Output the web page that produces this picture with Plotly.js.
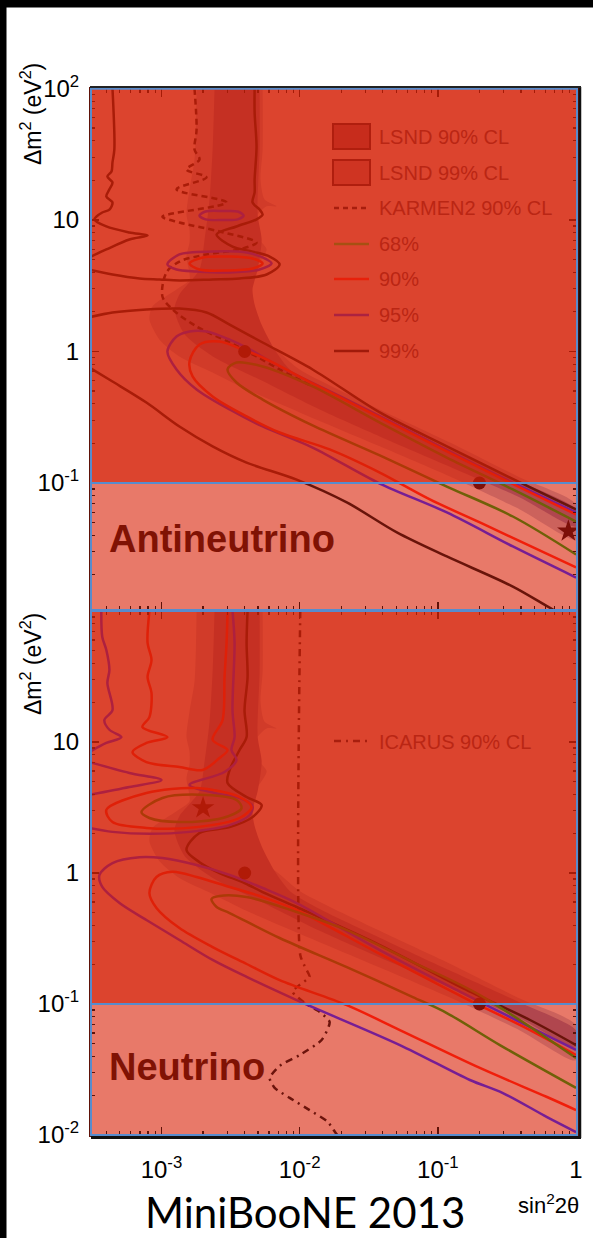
<!DOCTYPE html>
<html><head><meta charset="utf-8">
<script src="https://cdn.plot.ly/plotly-3.0.1.min.js"></script>
<style>html,body{margin:0;padding:0;background:#fff;}#chart{width:593px;height:1238px;}</style>
</head><body><div id="chart"></div>
<script>
// ================= DATA (sin^2 2theta , Delta m^2 [eV^2]) =================
// LSND allowed regions (same in both panels)
const lsnd99_s = [1.795e-3,1.734e-3,1.596e-3,1.517e-3,1.596e-3,1.596e-3,1.517e-3,1.596e-3,1.285e-3,8.61e-4,8.18e-4,9.68e-4,1.349e-3,2.344e-3,4.13e-3,0.01,0.038,0.1222,0.3926,1.0,
                  1.0,0.3926,0.1222,0.038,0.01,7.161e-3,5.395e-3,4.345e-3,3.864e-3,3.864e-3,4.875e-3,5.768e-3,5.129e-3,4.721e-3,5.768e-3,6.808e-3,5.572e-3,5.21e-3,5.395e-3,5.395e-3];
const lsnd99_dm = [100,28.8,17.1,11.0,8.47,6.74,5.27,3.53,2.96,2.20,1.75,1.23,0.916,0.692,0.514,0.344,0.190,0.112,0.0629,0.0372,
                  0.0687,0.110,0.203,0.362,0.73,0.98,1.23,1.75,2.49,3.12,4.43,5.97,7.11,10.1,12.7,12.7,14.3,20.3,34.4,100];
const lsnd90_s = [2.421e-3,2.344e-3,2.228e-3,2.051e-3,1.884e-3,1.349e-3,1.242e-3,1.469e-3,2.421e-3,5.129e-3,0.01396,0.038,0.1222,0.3926,1.0,
                  1.0,0.3926,0.1222,0.038,0.01396,8.472e-3,6.592e-3,5.309e-3,4.721e-3,4.56e-3,4.966e-3,5.309e-3,4.966e-3,5.129e-3,5.129e-3];
const lsnd90_dm = [100,34.4,14.3,7.11,4.20,2.71,2.09,1.35,0.90,0.612,0.362,0.226,0.133,0.0776,0.0467,
                  0.0629,0.1026,0.180,0.321,0.532,0.73,1.035,1.60,2.28,2.96,4.20,7.11,11.0,34.4,100];

// ---- Antineutrino panel ----
const anti68_s  = [1.0,0.349,0.1161,0.038,0.0124,5.395e-3,3.491e-3,3.006e-3,3.491e-3,5.395e-3,0.0124,0.038,0.1161,0.349,1.0];
const anti68_dm = [0.0509,0.0893,0.156,0.288,0.542,0.769,0.825,0.73,0.581,0.431,0.274,0.162,0.094,0.0556,0.0286];
const anti90_s  = [1.0,0.3926,0.1161,0.038,0.0124,5.395e-3,3.864e-3,2.63e-3,1.884e-3,1.596e-3,1.679e-3,2.344e-3,4.13e-3,7.161e-3,0.01648,0.038,0.0875,0.2014,1.0];
const anti90_dm = [0.0576,0.0925,0.174,0.315,0.571,0.90,1.035,1.19,1.13,0.839,0.646,0.455,0.321,0.242,0.180,0.120,0.075,0.0501,0.0228];
const anti90i_s  = [1.596e-3,1.982e-3,3.112e-3,4.56e-3,5.395e-3,4.56e-3,2.958e-3,1.884e-3,1.596e-3];
const anti90i_dm = [4.67,5.19,5.27,5.10,4.67,4.28,4.13,4.20,4.67];
const anti95_s  = [1.0,0.2014,0.0659,0.02193,7.161e-3,4.13e-3,3.112e-3,2.118e-3,1.596e-3,1.285e-3,1.104e-3,1.285e-3,1.795e-3,3.112e-3,5.395e-3,0.0124,0.038,0.1161,0.349,1.0];
const anti95_dm = [0.0597,0.133,0.242,0.431,0.769,1.07,1.23,1.42,1.42,1.30,1.0,0.73,0.514,0.362,0.269,0.186,0.099,0.0597,0.0329,0.0191];
const anti95i_s  = [1.104e-3,1.349e-3,2.344e-3,4.13e-3,5.768e-3,6.266e-3,5.129e-3,3.112e-3,1.795e-3,1.285e-3,1.104e-3];
const anti95i_dm = [4.59,5.47,5.75,5.66,5.01,4.67,4.20,3.99,4.06,4.20,4.59];
const anti95j_s  = [1.884e-3,2.084e-3,2.81e-3,3.56e-3,3.93e-3,3.56e-3,2.81e-3,2.084e-3,1.884e-3];
const anti95j_dm = [10.8,11.6,11.7,11.6,10.8,10.1,10.0,10.1,10.8];
const anti99a_s  = [4.42e-4,4.56e-4,4.42e-4,4.35e-4,4.06e-4,4.42e-4,4.20e-4,3.99e-4,4.42e-4,4.20e-4,3.73e-4,3.38e-4,3.27e-4,3.99e-4,5.86e-4,7.93e-4,5.86e-4,3.99e-4,3.0e-4];
const anti99a_dm = [100,34.4,27.4,23.4,21.4,19.3,17.1,15.1,13.6,12.0,11.4,10.6,10.1,8.93,8.04,7.62,7.11,5.97,5.19];
const anti99b_s  = [3.0e-4,4.42e-4,6.93e-4,9.68e-4,1.349e-3,2.344e-3,3.673e-3,5.768e-3,7.161e-3,6.067e-3,4.56e-3,3.266e-3,2.506e-3,3.491e-3,4.875e-3,5.395e-3,5.129e-3,4.56e-3,4.721e-3,4.721e-3,4.875e-3,4.721e-3,4.721e-3];
const anti99b_dm = [4.20,3.85,3.59,3.53,3.47,3.53,3.59,3.85,4.59,5.27,5.75,6.28,7.76,8.93,10.1,11.0,12.0,13.6,16.2,20.3,36.2,65.6,100];
const anti99c_s  = [3.0e-4,4.42e-4,7.78e-4,1.349e-3,2.118e-3,3.112e-3,5.395e-3,0.0124,0.038,0.1161,0.3926,1.0];
const anti99c_dm = [1.82,1.98,2.09,2.12,1.98,1.60,1.17,0.73,0.344,0.190,0.101,0.0629];
const anti99d_s  = [3.0e-4,4.42e-4,7.78e-4,1.349e-3,2.344e-3,4.13e-3,9.51e-3,0.02193,0.0505,0.1161,0.349,0.6808,1.0];
const anti99d_dm = [0.756,0.591,0.409,0.269,0.190,0.143,0.106,0.0711,0.0421,0.0276,0.0163,0.0109,0.00885];
const karmen_s  = [1.734e-3,1.795e-3,1.734e-3,1.884e-3,1.517e-3,2.118e-3,1.285e-3,2.958e-3,1.016e-3,1.349e-3,2.63e-3,4.875e-3,3.673e-3,2.118e-3,1.349e-3,1.086e-3,1.016e-3,1.202e-3,1.795e-3,3.112e-3,4.875e-3,7.161e-3,0.0124];
const karmen_dm = [100,48.8,34.4,28.8,24.2,21.1,17.1,13.6,10.6,9.57,8.18,6.74,5.97,5.47,4.83,3.99,2.62,2.09,1.55,1.17,0.916,0.73,0.542];
const antiBest_s = [0.88], antiBest_dm = [0.043];

// ---- Neutrino panel ----
const nu68_s  = [1.0,0.2014,0.0659,0.02193,9.51e-3,4.13e-3,2.63e-3,2.301e-3,2.506e-3,3.112e-3,7.161e-3,0.02193,0.0659,0.1161,0.2812,1.0];
const nu68_dm = [0.0387,0.117,0.209,0.367,0.504,0.656,0.667,0.633,0.550,0.495,0.319,0.191,0.113,0.0853,0.0486,0.0229];
const nu68i_s  = [7.16e-4,1.016e-3,2.118e-3,3.491e-3,3.80e-3,2.767e-3,1.349e-3,8.18e-4,7.16e-4];
const nu68i_dm = [2.92,3.74,3.94,3.61,3.13,2.63,2.45,2.63,2.92];
const nu90_s  = [1.0,0.4645,0.1517,0.038,9.51e-3,5.395e-3,3.112e-3,1.795e-3,1.202e-3,9.20e-4,8.18e-4,9.20e-4,1.349e-3,2.344e-3,4.13e-3,7.161e-3,0.02193,0.0531,0.2014,0.6166,1.0];
const nu90_dm = [0.0408,0.0633,0.113,0.241,0.522,0.656,0.782,0.932,1.02,0.932,0.704,0.541,0.380,0.272,0.202,0.152,0.098,0.0633,0.0325,0.0195,0.0155];
const nu90i_s  = [3.99e-4,7.78e-4,1.795e-3,3.673e-3,4.487e-3,3.673e-3,1.795e-3,7.78e-4,4.42e-4,3.99e-4];
const nu90i_dm = [3.03,4.08,4.45,3.80,3.19,2.63,2.24,2.21,2.45,3.03];
const nu90u_s  = [8.18e-4,7.93e-4,8.47e-4,7.93e-4,8.47e-4,8.18e-4,7.28e-4,1.104e-3,7.78e-4,6.17e-4,7.78e-4,1.349e-3,1.982e-3,2.63e-3,3.006e-3,2.344e-3,2.767e-3,2.86e-3,2.958e-3,3.006e-3];
const nu90u_dm = [100,57.0,42.3,31.3,23.7,15.5,13.0,10.9,9.83,8.39,7.03,6.44,6.11,7.55,8.69,10.4,14.7,31.3,57.0,100];
const nu95_s  = [1.0,0.4645,0.1517,0.038,9.51e-3,5.395e-3,3.112e-3,1.795e-3,1.016e-3,6.93e-4,4.42e-4,3.56e-4,3.73e-4,4.97e-4,7.78e-4,1.349e-3,2.344e-3,4.13e-3,9.51e-3,0.0531,0.1706,0.2958,0.6166,1.0];
const nu95_dm = [0.0446,0.0667,0.121,0.258,0.590,0.768,0.966,1.15,1.30,1.32,1.19,0.966,0.782,0.590,0.438,0.308,0.217,0.161,0.107,0.0486,0.0263,0.0209,0.0137,0.01054];
const nu95a_s  = [3.67e-4,3.73e-4,3.99e-4,4.20e-4,4.06e-4,4.42e-4,3.86e-4,4.20e-4,5.13e-4,3.99e-4,3.0e-4];
const nu95a_dm = [100,63.4,50.4,35.5,28.2,17.5,14.7,12.4,10.9,9.83,8.39];
const nu95b_s  = [3.0e-4,5.86e-4,1.0e-3,5.86e-4,3.0e-4];
const nu95b_dm = [7.03,5.80,5.13,4.53,3.94];
const nu95c_s  = [3.266e-3,3.38e-3,3.266e-3,3.38e-3,3.21e-3,3.491e-3,2.86e-3,1.596e-3,2.421e-3,3.673e-3,4.56e-3,4.345e-3,3.112e-3,1.596e-3,8.18e-4,4.42e-4,3.0e-4];
const nu95c_dm = [100,57.0,17.5,10.9,8.69,7.29,5.90,4.70,4.08,3.74,3.24,2.77,2.32,2.06,1.99,2.06,2.21];
const nu99_s  = [4.198e-3,4.13e-3,4.198e-3,3.99e-3,4.13e-3,3.673e-3,3.112e-3,3.006e-3,4.13e-3,5.309e-3,4.56e-3,3.112e-3,1.884e-3,1.517e-3,1.884e-3,2.63e-3,3.99e-3,5.395e-3,9.51e-3,0.038,0.1517,0.4645,1.0];
const nu99_dm = [100,57.0,31.3,17.5,10.9,8.69,6.11,4.87,3.80,3.30,2.67,2.24,2.02,1.50,1.21,1.0,0.839,0.716,0.550,0.282,0.132,0.0755,0.0486];
const icarus_s  = [0.0101,0.0101,0.01104,0.0118,0.01,8.892e-3,0.01086,0.01396,0.01648,0.01442,0.01,7.161e-3,6.067e-3,6.592e-3,8.472e-3,0.0118,0.01596,0.01824,0.0212];
const icarus_dm = [100,0.237,0.188,0.161,0.140,0.124,0.102,0.0869,0.0729,0.0531,0.0408,0.0337,0.0272,0.0229,0.0192,0.0155,0.0126,0.01035,0.0084];
const nuBest_s = [0.002], nuBest_dm = [3.14];

// test points (both panels)
const test_s = [0.004, 0.2], test_dm = [1, 0.1];

// tick labels
const xTickVals = [0.001, 0.01, 0.1, 1];
const xTickText = ['10<sup>-3</sup>', '10<sup>-2</sup>', '10<sup>-1</sup>', '1'];
const yTopVals = [100, 10, 1, 0.1];
const yTopText = ['10<sup>2</sup>', '10', '1', '10<sup>-1</sup>'];
const yBotVals = [10, 1, 0.1, 0.01];
const yBotText = ['10', '1', '10<sup>-1</sup>', '10<sup>-2</sup>'];
const minorMult = [2,3,4,5,6,7,8,9];
const legendTop = ['LSND 90% CL', 'LSND 99% CL', 'KARMEN2 90% CL', '68%', '90%', '95%', '99%'];
const legendBot = ['ICARUS 90% CL'];

// ================= BUILD =================
const W = 593, H = 1238;
const PX = v => v / W, PY = v => 1 - v / H;
const C68 = 'rgb(112,96,8)', C90 = 'rgb(240,30,10)', C95 = 'rgb(118,30,148)', C99 = 'rgb(105,20,10)', CEXP = 'rgb(108,20,12)';
const MARK = 'rgb(125,15,8)';

function ln(s, dm, color, ax, dash, w, sm) {
  return {type:'scatter', mode:'lines', x:s, y:dm, xaxis:ax[0], yaxis:ax[1], hoverinfo:'skip',
    line:{color:color, width:w||2.5, shape:'spline', smoothing:(sm===undefined?0.9:sm), dash:dash||'solid'}};
}
function fill(s, dm, color, ax) {
  return {type:'scatter', mode:'lines', x:s, y:dm, xaxis:ax[0], yaxis:ax[1], hoverinfo:'skip',
    fill:'toself', fillcolor:color, line:{width:0, color:color, shape:'spline', smoothing:0.7}};
}
function marks(s, dm, sym, size, ax) {
  return {type:'scatter', mode:'markers', x:s, y:dm, xaxis:ax[0], yaxis:ax[1], hoverinfo:'skip', cliponaxis:true,
    marker:{symbol:sym, size:size, color:MARK, line:{width:0}}};
}
const T = ['x','y'], B = ['x2','y2'];
const traces = [];
[T, B].forEach(ax => {
  traces.push(fill(lsnd99_s, lsnd99_dm, 'rgb(204,98,92)', ax));
  traces.push(fill(lsnd90_s, lsnd90_dm, 'rgb(176,70,78)', ax));
});
// antineutrino
traces.push(ln(anti99a_s, anti99a_dm, C99, T));
traces.push(ln(anti99b_s, anti99b_dm, C99, T));
traces.push(ln(anti99c_s, anti99c_dm, C99, T));
traces.push(ln(anti99d_s, anti99d_dm, C99, T));
traces.push(ln(karmen_s, karmen_dm, CEXP, T, '6px,4px', 2.5));
traces.push(ln(anti95_s, anti95_dm, C95, T));
traces.push(ln(anti95i_s, anti95i_dm, C95, T));
traces.push(ln(anti95j_s, anti95j_dm, C95, T));
traces.push(ln(anti90_s, anti90_dm, C90, T));
traces.push(ln(anti90i_s, anti90i_dm, C90, T));
traces.push(ln(anti68_s, anti68_dm, C68, T));
traces.push(marks(test_s, test_dm, 'circle', 13, T));
traces.push(marks(antiBest_s, antiBest_dm, 'star', 17, T));
// neutrino
traces.push(ln(icarus_s, icarus_dm, CEXP, B, '7px,5px,2px,5px', 2.5, 0.6));
traces.push(ln(nu99_s, nu99_dm, C99, B));
traces.push(ln(nu95_s, nu95_dm, C95, B));
traces.push(ln(nu95a_s, nu95a_dm, C95, B));
traces.push(ln(nu95b_s, nu95b_dm, C95, B));
traces.push(ln(nu95c_s, nu95c_dm, C95, B));
traces.push(ln(nu90_s, nu90_dm, C90, B));
traces.push(ln(nu90i_s, nu90i_dm, C90, B));
traces.push(ln(nu90u_s, nu90u_dm, C90, B));
traces.push(ln(nu68_s, nu68_dm, C68, B));
traces.push(ln(nu68i_s, nu68i_dm, C68, B));
traces.push(marks(test_s, test_dm, 'circle', 13, B));
traces.push(marks(nuBest_s, nuBest_dm, 'star', 17, B));

function minorVals(lo, hi) {
  const v = [];
  for (let e = lo; e < hi; e++) minorMult.forEach(m => v.push(m * Math.pow(10, e)));
  return v;
}
const AXC = 'rgb(95,18,8)';
const FONT = 'Liberation Sans, Arial, Helvetica, sans-serif';
function axis(extra) {
  return Object.assign({type:'log', showline:true, linecolor:AXC, linewidth:2, mirror:'allticks',
    ticks:'inside', ticklen:8, tickwidth:1.5, tickcolor:AXC, showgrid:false, zeroline:false,
    tickmode:'array', tickfont:{family:FONT, size:24, color:'#000'}, fixedrange:true}, extra);
}
const xDom = [PX(91), PX(577)];
const xMinor = {ticks:'inside', ticklen:4, tickwidth:1.2, tickcolor:AXC, tickmode:'array', tickvals:minorVals(-4, 0), showgrid:false};
const yMinor = {ticks:'inside', ticklen:4, tickwidth:1.2, tickcolor:AXC, tickmode:'array', tickvals:minorVals(-3, 2), showgrid:false};

const BLUE = 'rgb(88,140,205)';
function panelShapes(xa, ya) {
  return [
    {type:'rect', xref:xa+' domain', yref:ya, x0:0, x1:1, y0:0.1, y1:100, layer:'above',
      fillcolor:'rgba(212,33,7,0.6)', line:{color:BLUE, width:2}},
    {type:'rect', xref:xa+' domain', yref:ya+' domain', x0:0, x1:1, y0:0, y1:1, layer:'above',
      line:{color:BLUE, width:2}}
  ];
}
const shapes = [].concat(panelShapes('x','y'), panelShapes('x2','y2'));
// frame shadows and slide border
shapes.push({type:'line', xref:'paper', yref:'paper', x0:PX(580), x1:PX(580), y0:PY(1138), y1:PY(87), line:{color:'#111', width:2.5}, layer:'above'});
shapes.push({type:'line', xref:'paper', yref:'paper', x0:PX(91), x1:PX(581), y0:PY(1137.5), y1:PY(1137.5), line:{color:'#111', width:3}, layer:'above'});
shapes.push({type:'line', xref:'paper', yref:'paper', x0:PX(90), x1:PX(581), y0:PY(87), y1:PY(87), line:{color:'#222', width:2}, layer:'above'});
shapes.push({type:'rect', xref:'paper', yref:'paper', x0:0, x1:PX(6.5), y0:0, y1:1, fillcolor:'#000', line:{width:0}, layer:'above'});
shapes.push({type:'rect', xref:'paper', yref:'paper', x0:0, x1:1, y0:PY(7.5), y1:1, fillcolor:'#000', line:{width:0}, layer:'above'});
// legend symbols
const legY = [137, 173, 208, 244, 279, 315, 351];
shapes.push({type:'rect', xref:'paper', yref:'paper', x0:PX(333), x1:PX(370), y0:PY(149), y1:PY(124), fillcolor:'rgb(199,44,28)', line:{color:'rgb(176,30,14)', width:2}, layer:'above'});
shapes.push({type:'rect', xref:'paper', yref:'paper', x0:PX(333), x1:PX(370), y0:PY(185), y1:PY(160), fillcolor:'rgb(207,52,34)', line:{color:'rgb(176,30,14)', width:2}, layer:'above'});
const legLines = [[208,'rgb(168,30,14)','5px,4px'],[244,'rgb(166,80,18)','solid'],[279,'rgb(232,32,10)','solid'],[315,'rgb(172,34,64)','solid'],[351,'rgb(160,26,10)','solid']];
legLines.forEach(l => shapes.push({type:'line', xref:'paper', yref:'paper', x0:PX(334), x1:PX(369), y0:PY(l[0]), y1:PY(l[0]), line:{color:l[1], width:2.5, dash:l[2]}, layer:'above'}));
shapes.push({type:'line', xref:'paper', yref:'paper', x0:PX(334), x1:PX(369), y0:PY(741), y1:PY(741), line:{color:'rgb(168,30,14)', width:2.5, dash:'7px,5px,2px,5px'}, layer:'above'});

const LEGC = 'rgb(186,38,20)';
const ann = [];
legendTop.forEach((t, i) => ann.push({xref:'paper', yref:'paper', x:PX(377), y:PY(legY[i]), text:t, showarrow:false, xanchor:'left', yanchor:'middle', font:{family:FONT, size:20, color:LEGC}}));
ann.push({xref:'paper', yref:'paper', x:PX(377), y:PY(742), text:legendBot[0], showarrow:false, xanchor:'left', yanchor:'middle', font:{family:FONT, size:20, color:LEGC}});
ann.push({xref:'paper', yref:'paper', x:PX(107), y:PY(539), text:'<b>Antineutrino</b>', showarrow:false, xanchor:'left', yanchor:'middle', font:{family:FONT, size:38, color:'rgb(128,18,4)'}});
ann.push({xref:'paper', yref:'paper', x:PX(107), y:PY(1067), text:'<b>Neutrino</b>', showarrow:false, xanchor:'left', yanchor:'middle', font:{family:FONT, size:38, color:'rgb(128,18,4)'}});
[114, 664].forEach(yc => ann.push({xref:'paper', yref:'paper', x:PX(31), y:PY(yc), text:'Δm<sup>2</sup> (eV<sup>2</sup>)', textangle:-90, showarrow:false, xanchor:'center', yanchor:'middle', font:{family:FONT, size:23, color:'#000'}}));
ann.push({xref:'paper', yref:'paper', x:PX(548), y:PY(1204), text:'sin<sup>2</sup>2θ', showarrow:false, xanchor:'center', yanchor:'middle', font:{family:FONT, size:22, color:'#000'}});
ann.push({xref:'paper', yref:'paper', x:PX(305), y:PY(1212), text:'MiniBooNE 2013', showarrow:false, xanchor:'center', yanchor:'middle', font:{family:'Lato, Carlito, "Open Sans", sans-serif', size:42, color:'#000'}});

const layout = {
  width:W, height:H, margin:{l:0, r:0, t:0, b:0, pad:0},
  paper_bgcolor:'#fff', plot_bgcolor:'rgb(232,121,105)', showlegend:false,
  xaxis: axis({domain:xDom, range:[-3.51, 0.007], anchor:'y', showticklabels:false, tickvals:xTickVals, minor:xMinor}),
  yaxis: axis({domain:[PY(610), PY(88.5)], range:[-1.966, 2.0], anchor:'x', tickvals:yTopVals, ticktext:yTopText, ticklabelstandoff:5, minor:yMinor}),
  xaxis2: axis({domain:xDom, range:[-3.51, 0.007], anchor:'y2', tickvals:xTickVals, ticktext:xTickText, ticklabelstandoff:12, minor:xMinor}),
  yaxis2: axis({domain:[PY(1135), PY(611)], range:[-2, 2], anchor:'x2', tickvals:yBotVals, ticktext:yBotText, ticklabelstandoff:5, minor:yMinor}),
  shapes:shapes, annotations:ann
};
Plotly.newPlot('chart', traces, layout, {staticPlot:true, displayModeBar:false});
</script></body></html>
